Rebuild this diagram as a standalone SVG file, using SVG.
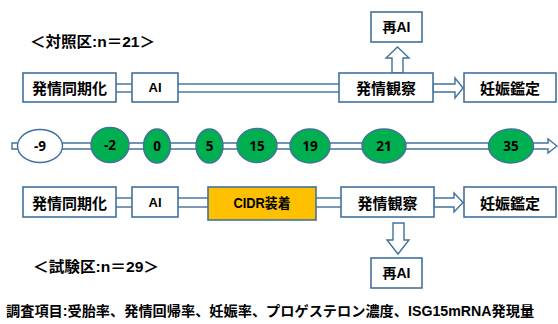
<svg xmlns="http://www.w3.org/2000/svg" width="558" height="324" viewBox="0 0 558 324">
<style>
.box{fill:#fff;stroke:#41719C;stroke-width:1.6}
.cidr{fill:#FFC000;stroke:#41719C;stroke-width:1.6}
.conn{fill:#fff;stroke:#41719C;stroke-width:1.4;stroke-linejoin:miter}
.ell{fill:#00B050;stroke:#41719C;stroke-width:1.4}
.ellw{fill:#fff;stroke:#41719C;stroke-width:1.4}
.jp{font-family:"Noto Sans CJK JP","Noto Sans",sans-serif;font-weight:bold;font-size:15px;fill:#000;text-anchor:middle;dominant-baseline:central}
.lat{font-family:"Liberation Sans","Noto Sans CJK JP",sans-serif;font-weight:bold;font-size:13px;fill:#000;text-anchor:middle;dominant-baseline:central}
.num{font-family:"Open Sans","Liberation Sans",sans-serif;font-weight:bold;font-size:13.5px;fill:#000;text-anchor:middle;dominant-baseline:central}
.hd{font-family:"Liberation Sans","Noto Sans CJK JP",sans-serif;font-weight:bold;font-size:15px;fill:#000}
</style>
<g id="connectors">
  <path class="conn" d="M12,143 H548 V139 L557,146 L548,153 V149 H12 Z"/>
  <rect class="conn" x="114" y="84" width="20" height="8"/>
  <rect class="conn" x="176" y="84" width="165" height="8"/>
  <path class="conn" d="M433,84 H455 V78 L463,88 L455,98 V92 H433 Z"/>
  <path class="conn" d="M392,73 V58 H386 L397.5,47 L409,58 H403 V73 Z"/>
  <rect class="conn" x="114" y="198" width="20" height="9"/>
  <rect class="conn" x="176" y="198" width="34" height="9"/>
  <rect class="conn" x="314" y="198" width="29" height="9"/>
  <path class="conn" d="M434,198 H454 V193 L463,202.5 L454,212 V207 H434 Z"/>
  <path class="conn" d="M393,223 V240 H387 L398,254 L409,240 H404 V223 Z"/>
</g>
<g id="heading-control"><text class="hd" x="30" y="47" textLength="125" lengthAdjust="spacingAndGlyphs">＜対照区:n＝21＞</text></g>
<g id="heading-test"><text class="hd" x="33" y="272" textLength="126" lengthAdjust="spacingAndGlyphs">＜試験区:n＝29＞</text></g>

<g id="top-sync"><rect class="box" x="23" y="73" width="93" height="29"/><text class="jp" x="69.5" y="87.5">発情同期化</text></g>
<g id="top-ai"><rect class="box" x="132" y="73" width="46" height="29"/><text class="lat" x="155" y="87.5">AI</text></g>
<g id="top-obs"><rect class="box" x="339" y="73" width="94" height="29"/><text class="jp" x="386" y="87.5">発情観察</text></g>
<g id="top-preg"><rect class="box" x="464" y="73" width="92" height="29"/><text class="jp" x="510" y="87.5">妊娠鑑定</text></g>
<g id="top-reai"><rect class="box" x="371" y="12" width="51" height="30"/><text class="lat" x="396.5" y="27" style="font-size:14px">再AI</text></g>

<g id="d-9"><ellipse class="ellw" cx="40" cy="146" rx="22.5" ry="16.5"/><text class="num" x="40" y="146">-9</text></g>
<g id="d-2"><ellipse class="ell" cx="110" cy="145" rx="19" ry="17.5"/><text class="num" x="110" y="145">-2</text></g>
<g id="d0"><ellipse class="ell" cx="157" cy="146" rx="13.5" ry="17"/><text class="num" x="157" y="146">0</text></g>
<g id="d5"><ellipse class="ell" cx="209.5" cy="146" rx="13.5" ry="17"/><text class="num" x="209.5" y="146">5</text></g>
<g id="d15"><ellipse class="ell" cx="257" cy="145.5" rx="20" ry="17"/><text class="num" x="257" y="145.5">15</text></g>
<g id="d19"><ellipse class="ell" cx="310" cy="146" rx="20" ry="17"/><text class="num" x="310" y="146">19</text></g>
<g id="d21"><ellipse class="ell" cx="384" cy="146" rx="22" ry="17"/><text class="num" x="384" y="146">21</text></g>
<g id="d35"><ellipse class="ell" cx="511" cy="146" rx="22.5" ry="17"/><text class="num" x="511" y="146">35</text></g>

<g id="bot-sync"><rect class="box" x="23" y="187" width="93" height="30"/><text class="jp" x="69.5" y="202">発情同期化</text></g>
<g id="bot-ai"><rect class="box" x="132" y="187" width="46" height="30"/><text class="lat" x="155" y="202">AI</text></g>
<g id="bot-cidr"><rect class="cidr" x="208" y="187" width="108" height="33"/><text class="lat" x="262" y="203" style="font-size:14px" textLength="57" lengthAdjust="spacingAndGlyphs">CIDR装着</text></g>
<g id="bot-obs"><rect class="box" x="341" y="187" width="93" height="30"/><text class="jp" x="387.5" y="202">発情観察</text></g>
<g id="bot-preg"><rect class="box" x="464" y="187" width="92" height="30"/><text class="jp" x="510" y="202">妊娠鑑定</text></g>
<g id="bot-reai"><rect class="box" x="371" y="258" width="51" height="30"/><text class="lat" x="396.5" y="273" style="font-size:14px">再AI</text></g>

<g id="footer"><text class="hd" x="6" y="316" style="font-size:14.2px">調査項目:受胎率、発情回帰率、妊娠率、プロゲステロン濃度、ISG15mRNA発現量</text></g>
</svg>
